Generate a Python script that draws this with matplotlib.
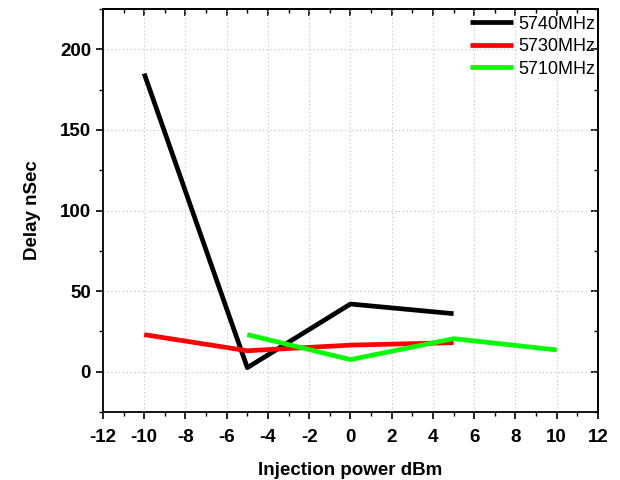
import matplotlib
matplotlib.use("Agg")
import matplotlib.pyplot as plt
from matplotlib.ticker import MultipleLocator

plt.rcParams["font.family"] = ["Liberation Sans", "DejaVu Sans"]
plt.rcParams["axes.unicode_minus"] = False

x_5740 = [-10, -5, 0, 5]
y_5740 = [185, 2.5, 42, 36]
x_5730 = [-10, -5, 0, 5]
y_5730 = [23, 13, 16.5, 18]
x_5710 = [-5, 0, 5, 10]
y_5710 = [23, 7.5, 20.5, 13.5]

SERIES = [
    ("5740MHz", x_5740, y_5740, "#000000"),
    ("5730MHz", x_5730, y_5730, "#ff0000"),
    ("5710MHz", x_5710, y_5710, "#00ff00"),
]

fig = plt.figure(figsize=(6.2, 4.8), dpi=100)
ax = fig.add_axes([0.166, 0.1417, 0.7985, 0.8393])

for label, xs, ys, color in SERIES:
    ax.plot(xs, ys, color=color, linewidth=3.4, label=label, solid_capstyle="butt")

ax.set_xlim(-12, 12)
ax.set_ylim(-25, 225)
ax.xaxis.set_major_locator(MultipleLocator(2))
ax.xaxis.set_minor_locator(MultipleLocator(1))
ax.yaxis.set_major_locator(MultipleLocator(50))
ax.yaxis.set_minor_locator(MultipleLocator(25))

ax.grid(True, which="major", color="#c0c0c0", linestyle=(0, (1, 2.5)), linewidth=0.8)
ax.tick_params(which="major", direction="out", length=5, width=1.2,
               labelsize=13.5, top=False, right=False)
ax.tick_params(axis="x", which="major", pad=7)
ax.tick_params(which="minor", direction="out", length=3, width=1.0)
for lab in ax.get_xticklabels() + ax.get_yticklabels():
    lab.set_fontweight("bold")

# mirrored inward ticks on top/right
sec_y = ax.secondary_yaxis("right")
sec_y.yaxis.set_major_locator(MultipleLocator(50))
sec_y.yaxis.set_minor_locator(MultipleLocator(25))
sec_y.tick_params(which="major", direction="in", length=5, width=1.2, labelright=False)
sec_y.tick_params(which="minor", direction="in", length=3, width=1.0)
sec_x = ax.secondary_xaxis("top")
sec_x.xaxis.set_major_locator(MultipleLocator(2))
sec_x.xaxis.set_minor_locator(MultipleLocator(1))
sec_x.tick_params(which="major", direction="in", length=5, width=1.2, labeltop=False)
sec_x.tick_params(which="minor", direction="in", length=3, width=1.0)

for sp in ax.spines.values():
    sp.set_linewidth(1.3)
sec_y.spines["right"].set_linewidth(1.3)
sec_x.spines["top"].set_linewidth(1.3)

ax.set_xlabel("Injection power dBm", fontsize=13.5, fontweight="bold", labelpad=12)
ax.set_ylabel("Delay nSec", fontsize=13.5, fontweight="bold", labelpad=14)

ax.legend(loc="upper right", bbox_to_anchor=(1.02, 1.015), frameon=False, fontsize=13,
          handlelength=2.4, handletextpad=0.3, labelspacing=0.3, borderaxespad=0.3)

fig.savefig("out.png", dpi=100)
